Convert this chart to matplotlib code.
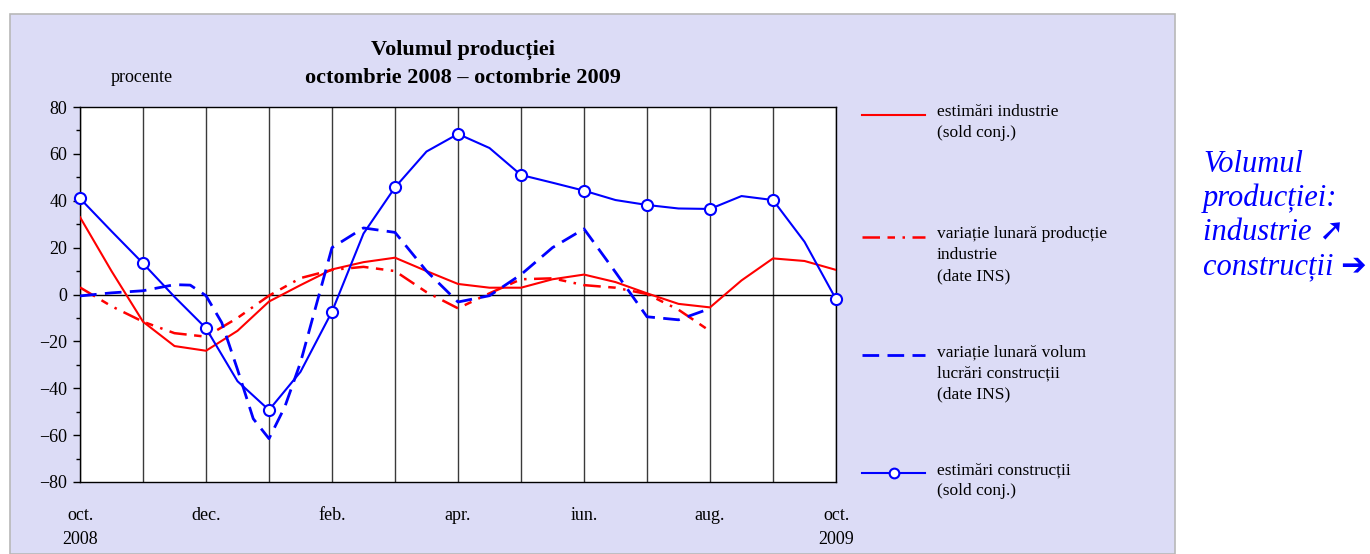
import matplotlib
matplotlib.use('Agg')
import matplotlib.pyplot as plt
from matplotlib.lines import Line2D
from matplotlib.patches import Rectangle
import numpy as np

plt.rcParams['font.family'] = ['Liberation Serif', 'DejaVu Sans']

# month index: 0 = oct. 2008 ... 12 = oct. 2009, read every half month
half_months = np.arange(0, 12.5, 0.5)

# estimari industrie (sold conj.)
est_ind = [33, 10, -11.6, -22, -24, -15.5, -3, 4, 10.7, 13.8, 15.7, 10, 4.5,
           2.9, 2.9, 6.5, 8.5, 5.3, 0.5, -4, -5.5, 6, 15.4, 14.3, 10.5]

# estimari constructii (sold conj.), markers on the monthly values
est_cons = [41, 27, 13.3, -1, -14.4, -37, -49.3, -33, -7.3, 26, 45.7, 61, 68.5,
            62.5, 51, 47.7, 44.3, 40.3, 38.2, 36.7, 36.5, 42, 40.3, 22.5, -2]

# variatie lunara productie industrie (date INS), oct. 2008 - aug. 2009
var_ind_months = np.arange(0, 10.5, 0.5)
var_ind = [3, -5, -11.6, -16.5, -18, -10, -0.5, 7, 10.5, 11.8, 10, 1, -5.9,
           0.5, 6.5, 6.9, 4, 2.9, 0.2, -6.5, -15.6]

# variatie lunara volum lucrari constructii (date INS)
var_cons_months = [0, 0.5, 1, 1.5, 1.75, 2, 2.25, 2.5, 2.75, 3, 3.25, 3.5, 3.75,
                   4, 4.5, 5, 5.5, 6, 6.5, 7, 7.5, 8, 8.5, 9, 9.5, 10]
var_cons = [-0.6, 0.7, 1.6, 4.2, 4, -0.5, -12, -32, -53, -61.5, -48, -29, -4.5,
            20, 28.4, 26.5, 10, -3.2, -0.5, 8.5, 20, 28, 9.5, -9.5, -10.8, -6]

tick_pos = [0, 2, 4, 6, 8, 10, 12]
tick_labels = ['oct.\n2008', 'dec.', 'feb.', 'apr.', 'iun.', 'aug.', 'oct.\n2009']

legend_labels = ['estimări industrie\n(sold conj.)',
                 'variație lunară producție\nindustrie\n(date INS)',
                 'variație lunară volum\nlucrări construcții\n(date INS)',
                 'estimări construcții\n(sold conj.)']

W, H = 1370, 554
fig = plt.figure(figsize=(13.7, 5.54), dpi=100)
fig.patch.set_facecolor('white')

# dotted lavender panel behind the chart
panel = Rectangle((10 / W, 0), 1165 / W, 1 - 14 / H, transform=fig.transFigure,
                  facecolor='#dcdcf6', edgecolor='#b8b8b8', lw=1.2, zorder=0)
fig.add_artist(panel)

ax = fig.add_axes([80 / W, 72 / H, 756 / W, 375 / H])
ax.set_facecolor('white')

ind_dash = (7, 3, 3, 3, 1, 3)
ax.plot(half_months, est_ind, color='red', lw=1.5, zorder=3)
ax.plot(var_ind_months, var_ind, color='red', lw=1.8, dashes=ind_dash, zorder=3)
ax.plot(var_cons_months, var_cons, color='blue', lw=2, dashes=(6, 3), zorder=4)
ax.plot(half_months, est_cons, color='blue', lw=1.5, marker='o', ms=8,
        mfc='white', mec='blue', mew=1.5, markevery=2, zorder=5, clip_on=False)

ax.axhline(0, color='black', lw=1, zorder=2)

ax.set_xlim(0, 12)
ax.set_ylim(-80, 80)
ax.set_xticks(tick_pos)
ax.set_xticklabels(tick_labels, fontsize=13)
ax.set_xticks(range(13), minor=True)
ax.grid(True, axis='x', which='both', color='#3a3a3a', lw=1, zorder=1)
ax.tick_params(axis='x', which='both', length=0, pad=18)
for lab in ax.get_xticklabels():
    lab.set_linespacing(1.5)

ax.set_yticks(np.arange(-80, 81, 20))
ax.set_yticklabels([str(v).replace('-', '\u2212') for v in range(-80, 81, 20)], fontsize=13)
ax.set_yticks(np.arange(-70, 80, 20), minor=True)
ax.tick_params(axis='y', which='major', length=5, width=1, direction='out', pad=4)
ax.tick_params(axis='y', which='minor', length=3, width=1, direction='out')
for sp in ax.spines.values():
    sp.set_color('black')
    sp.set_linewidth(1)

fig.text(463 / W, 1 - 50 / H, 'Volumul producției', ha='center', va='center',
         fontsize=16, fontweight='bold')
fig.text(463 / W, 1 - 78 / H, 'octombrie 2008 – octombrie 2009', ha='center',
         va='center', fontsize=16, fontweight='bold')
fig.text(142 / W, 1 - 78 / H, 'procente', ha='center', va='center', fontsize=13)

# legend on the right of the plot
leg_y = [115, 237, 355, 473]
leg_styles = [dict(color='red', lw=1.5),
              dict(color='red', lw=1.8, dashes=ind_dash),
              dict(color='blue', lw=2, dashes=(6, 3)),
              dict(color='blue', lw=1.5)]
for y, lab, st in zip(leg_y, legend_labels, leg_styles):
    fig.add_artist(Line2D([862 / W, 925 / W], [1 - y / H, 1 - y / H],
                          transform=fig.transFigure, **st))
    fig.text(937 / W, 1 - (y - 11) / H, lab, ha='left', va='top', fontsize=12.5,
             linespacing=1.45)
fig.add_artist(Line2D([894 / W], [1 - 473 / H], transform=fig.transFigure,
                      marker='o', ms=7, mfc='white', mec='blue', mew=1.5))

fig.text(1203 / W, 1 - 150 / H, 'Volumul\nproducției:\nindustrie ➚\nconstrucții ➔',
         ha='left', va='top', fontsize=22, style='italic', color='blue',
         linespacing=1.22)

fig.savefig('out.png', dpi=100)
